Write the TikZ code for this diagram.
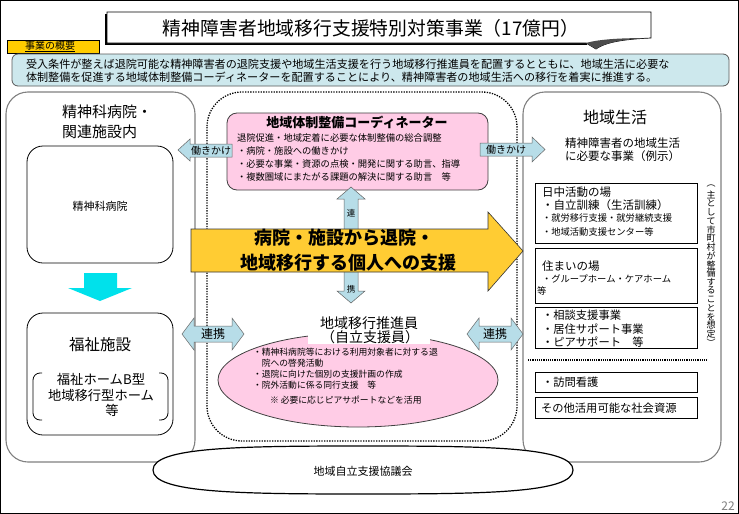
\documentclass[tikz,border=0pt]{standalone}
\usepackage{fontspec}
\setmainfont{Noto Sans CJK JP}
\usepackage{graphicx}
\definecolor{sumblue}{RGB}{205,232,237}
\definecolor{arrteal}{RGB}{183,221,232}
\definecolor{pinkbox}{RGB}{255,204,230}
\definecolor{goldarr}{RGB}{255,204,51}
\definecolor{labelgold}{RGB}{255,204,0}
\definecolor{cyanarr}{RGB}{0,225,235}
\definecolor{panelgray}{RGB}{128,128,128}
\newcommand\js{\vphantom{国}}
\newcommand\jf[1]{\fontsize{#1}{#1}\selectfont}
\tikzset{
  jt/.style={inner sep=0pt, outer sep=0pt},
  panel/.style={draw=panelgray, line width=1.1pt, rounded corners=22pt},
  innerbox/.style={draw=black, line width=0.8pt, rounded corners=16pt},
  listbox/.style={draw=black, line width=0.9pt},
  tealarrow/.style={fill=arrteal, draw=black!60, line width=0.5pt},
  pinkfill/.style={fill=pinkbox, draw=black!75, line width=0.8pt},
}
\begin{document}
\begin{tikzpicture}[x=1pt,y=-1pt]
\useasboundingbox (0,0) rectangle (739,514);
\fill[white] (0,0) rectangle (739,514);
\draw[line width=1pt] (0.5,0.5) rectangle (738.5,513.5);
% title
\draw[line width=2pt] (106,14) -- (106,44) -- (587,44);
\draw[fill=white, line width=0.7pt] (107,12) -- (651,12) -- (651,38) .. controls (630,39) and (607,41) .. (596,49) -- (586,43) -- (107,43) -- cycle;
\fill[black!70] (586,43) -- (596,49) .. controls (607,41) and (630,39) .. (651,38) .. controls (622,38) and (600,39) .. (586,43);
\node[jt] (title) at (371,28) {\resizebox{416pt}{!}{\jf{19}\js 精神障害者地域移行支援特別対策事業（17億円）}};
% label
\draw[fill=labelgold, line width=0.8pt] (7,40) rectangle (99,53);
\node[jt, font=\jf{10}] (gaiyo) at (50,46.5) {\underline{\js 事業の概要}};
% summary
\draw[fill=sumblue, draw=black!65, line width=0.8pt, rounded corners=6pt] (12,54) rectangle (729,86);
\node[jt, anchor=west, font=\jf{11.1}] (s1) at (26,64) {\js 受入条件が整えば退院可能な精神障害者の退院支援や地域生活支援を行う地域移行推進員を配置するとともに、地域生活に必要な};
\node[jt, anchor=west, font=\jf{11.1}] (s2) at (26,77) {\js 体制整備を促進する地域体制整備コーディネーターを配置することにより、精神障害者の地域生活への移行を着実に推進する。};
% panels
\draw[panel, fill=white] (6,92) rectangle (195,462);
\draw[panel, fill=white] (523,92) rectangle (721,462);
\draw[line width=1.3pt, dash pattern=on 1.3pt off 1.3pt, rounded corners=35pt] (207,92) rectangle (517,441);
% left panel
\node[jt, anchor=west, font=\jf{15}] (lt1) at (62,112) {\js 精神科病院・};
\node[jt, anchor=west, font=\jf{15}] (lt2) at (62,132) {\js 関連施設内};
\draw[innerbox] (27,146) rectangle (173,263);
\node[jt, font=\jf{11}] (hosp) at (100,206) {\js 精神科病院};
\fill[cyanarr] (84,273) -- (117,273) -- (117,288) -- (132,288) -- (100,301) -- (68,288) -- (84,288) -- cycle;
\draw[innerbox] (27,313) rectangle (173,435);
\node[jt, font=\jf{15.5}] (fuku) at (100,345) {\js 福祉施設};
\draw[line width=0.8pt, rounded corners=7pt] (42,373) -- (33,373) -- (33,420) -- (42,420);
\draw[line width=0.8pt, rounded corners=7pt] (159,373) -- (168,373) -- (168,420) -- (159,420);
\node[jt, font=\jf{13.3}] (fh1) at (101,379) {\js 福祉ホームB型};
\node[jt, font=\jf{13.3}] (fh2) at (101,395) {\js 地域移行型ホーム};
\node[jt, font=\jf{13.3}] (fh3) at (112,410) {\js 等};
% coordinator
\draw[pinkfill, rounded corners=10pt] (227,113) rectangle (488,190);
\node[jt, font=\bfseries\jf{13}] (coordT) at (357,122) {\js 地域体制整備コーディネーター};
\node[jt, anchor=west, align=left, font=\fontsize{9.3}{13}\selectfont] (coordB) at (237,157.5) {\js 退院促進・地域定着に必要な体制整備の総合調整\\\js ・病院・施設への働きかけ\\\js ・必要な事業・資源の点検・開発に関する助言、指導\\\js ・複数圏域にまたがる課題の解決に関する助言　等};
\draw[tealarrow] (178,150) -- (190,139) -- (190,144) -- (232,144) -- (232,157) -- (190,157) -- (190,161) -- cycle;
\node[jt, font=\jf{10}] (hatL) at (211,150.5) {\js 働きかけ};
\draw[tealarrow] (545,149.5) -- (532,137) -- (532,143) -- (480,143) -- (480,156) -- (532,156) -- (532,162) -- cycle;
\node[jt, font=\jf{10}] (hatR) at (506,149.5) {\js 働きかけ};
% vertical double arrow
\draw[tealarrow] (351,187) -- (365,199) -- (358,199) -- (358,291) -- (365,291) -- (351,303) -- (337,291) -- (344,291) -- (344,199) -- (337,199) -- cycle;
\node[jt, font=\jf{8.5}] (ren) at (351,213) {\js 連};
\node[jt, font=\jf{8.5}] (kei) at (351,289) {\js 携};
% big yellow arrow
\draw[fill=goldarr, draw=black!80, line width=0.6pt] (191,229) -- (488,229) -- (488,212) -- (523,251) -- (488,291) -- (488,272) -- (191,272) -- cycle;
\node[jt, font=\bfseries\jf{18}] (y1) at (344,238) {\js 病院・施設から退院・};
\node[jt, font=\bfseries\jf{18}] (y2) at (348,263) {\js 地域移行する個人への支援};
% ellipse
\draw[pinkfill] (358,380) ellipse [x radius=140pt, y radius=47pt];
\fill[white] (308,313) rectangle (430,344);
\node[jt, font=\jf{14}] (sui1) at (369,323) {\js 地域移行推進員};
\node[jt, font=\jf{14}] (sui2) at (370,337) {\js （自立支援員）};
\node[jt, anchor=west, align=left, font=\fontsize{8.8}{11}\selectfont] (suiB) at (253,368.5) {\js ・精神科病院等における利用対象者に対する退\\\js 　院への啓発活動\\\js ・退院に向けた個別の支援計画の作成\\\js ・院外活動に係る同行支援　等};
\node[jt, anchor=west, font=\jf{8.8}] (note) at (270,400) {\js ※ 必要に応じピアサポートなどを活用};
% renkei arrows
\draw[tealarrow] (182,334) -- (194,318) -- (194,326) -- (232,326) -- (232,318) -- (244,334) -- (232,350) -- (232,342) -- (194,342) -- (194,350) -- cycle;
\node[jt, font=\jf{12}] (rkL) at (213,334) {\js 連携};
\draw[tealarrow] (467,334) -- (479,318) -- (479,326) -- (511,326) -- (511,318) -- (523,334) -- (511,350) -- (511,342) -- (479,342) -- (479,350) -- cycle;
\node[jt, font=\jf{12}] (rkR) at (495,334) {\js 連携};
% right panel
\node[jt, font=\jf{16}] (rt) at (615,117) {\js 地域生活};
\node[jt, anchor=west, font=\jf{11.5}] (rs1) at (565,143) {\js 精神障害者の地域生活};
\node[jt, anchor=west, font=\jf{11.5}] (rs2) at (565,156) {\js に必要な事業（例示）};
\draw[listbox] (535,183) rectangle (697,243);
\node[jt, anchor=west, font=\jf{11.5}] (a1) at (542,192) {\js 日中活動の場};
\node[jt, anchor=west, font=\jf{11.5}] (a2) at (542,205) {\js ・自立訓練（生活訓練）};
\node[jt, anchor=west, font=\jf{9.3}] (a3) at (542,218) {\js ・就労移行支援・就労継続支援};
\node[jt, anchor=west, font=\jf{9.3}] (a4) at (542,232) {\js ・地域活動支援センター等};
\draw[listbox] (535,248) rectangle (697,303);
\node[jt, anchor=west, font=\jf{11.5}] (b1) at (542,266) {\js 住まいの場};
\node[jt, anchor=west, font=\jf{9.3}] (b2) at (542,279) {\js ・グループホーム・ケアホーム};
\node[jt, anchor=west, font=\jf{9.3}] (b3) at (537,291) {\js 等};
\draw[listbox] (535,307) rectangle (697,348);
\node[jt, anchor=west, font=\jf{11.3}] (c1) at (542,315) {\js ・相談支援事業};
\node[jt, anchor=west, font=\jf{11.3}] (c2) at (542,329) {\js ・居住サポート事業};
\node[jt, anchor=west, font=\jf{11.3}] (c3) at (542,342) {\js ・ピアサポート　等};
\draw[line width=1.1pt, dash pattern=on 1.1pt off 1.1pt] (528,360) -- (708,360);
\draw[listbox] (535,372) rectangle (697,392);
\node[jt, anchor=west, font=\jf{11.3}] (d1) at (542,382) {\js ・訪問看護};
\draw[listbox] (535,397) rectangle (697,418);
\node[jt, anchor=west, font=\jf{11.3}] (e1) at (541,408) {\js その他活用可能な社会資源};
% vertical note
\node[jt, font=\jf{9}] (vt0) at (711,186.35) {︵};
\foreach \ch [count=\i] in {主,と,し,て,市,町,村,が,整,備,す,る,こ,と,を,想,定}
  \node[jt, font=\jf{9}] (vt\i) at (711,{186.35+8.7*\i}) {\js\ch};
\node[jt, font=\jf{9}] (vt18) at (711,342.95) {︶};
% bottom council
\draw[fill=white, line width=1.2pt] (153,470) .. controls (153,447) and (240,446) .. (363,446) .. controls (486,446) and (573,447) .. (573,470) .. controls (573,493) and (486,494) .. (363,494) .. controls (240,494) and (153,493) .. (153,470) -- cycle;
\node[jt, font=\jf{11}] (council) at (363,471) {\js 地域自立支援協議会};
\node[jt, font=\jf{12}, text=gray] (page) at (728,506) {22};
\end{tikzpicture}
\end{document}
